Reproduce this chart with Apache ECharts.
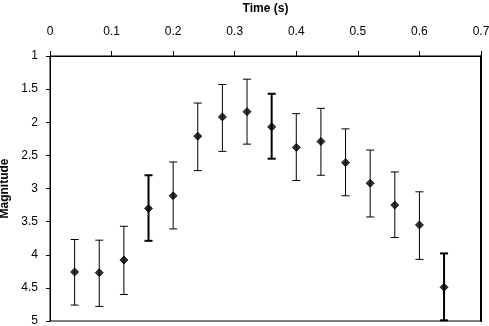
<!DOCTYPE html>
<html>
<head>
<meta charset="utf-8">
<script src="https://cdn.jsdelivr.net/npm/echarts@6/dist/echarts.min.js"></script>
<style>
  html, body { margin: 0; padding: 0; background: #fff; }
  #chart { width: 489px; height: 326px; }
</style>
</head>
<body>
<div id="chart"></div>
<script>
// 数据
const times = [0.04, 0.08, 0.12, 0.16, 0.20, 0.24, 0.28, 0.32, 0.36, 0.40, 0.44, 0.48, 0.52, 0.56, 0.60, 0.64]
const magnitudes = [4.26, 4.27, 4.08, 3.30, 3.11, 2.21, 1.92, 1.84, 2.07, 2.38, 2.29, 2.61, 2.92, 3.25, 3.55, 4.49]
const errTop = [3.77, 3.78, 3.57, 2.80, 2.60, 1.71, 1.43, 1.35, 1.57, 1.87, 1.79, 2.10, 2.42, 2.75, 3.05, 3.98]
const errBottom = [4.76, 4.78, 4.60, 3.79, 3.61, 2.73, 2.44, 2.33, 2.55, 2.88, 2.80, 3.11, 3.43, 3.74, 4.07, 4.99]
const xTicks = [0, 0.1, 0.2, 0.3, 0.4, 0.5, 0.6, 0.7]
const yTicks = [1, 1.5, 2, 2.5, 3, 3.5, 4, 4.5, 5]

// 样式: some bars are drawn heavier in the original
const heavyBars = [3, 8, 15]

const font = 'Liberation Sans, Arial, sans-serif'

const chart = echarts.init(document.getElementById('chart'), null, { renderer: 'canvas' })

const option = {
  animation: false,
  backgroundColor: '#fff',
  grid: {
    left: 50,
    right: 8,
    top: 56,
    bottom: 5,
    outerBoundsMode: 'none',
    containLabel: false,
    show: true,
    borderColor: '#000',
    borderWidth: 1
  },
  xAxis: {
    type: 'value',
    position: 'top',
    min: 0,
    max: 0.7,
    interval: 0.1,
    name: 'Time (s)',
    nameLocation: 'middle',
    nameGap: 41,
    nameTextStyle: { fontFamily: font, fontSize: 12, fontWeight: 'bold', color: '#000' },
    axisLine: { lineStyle: { color: '#000', width: 1 } },
    axisTick: { show: true, inside: false, length: 5, lineStyle: { color: '#000' } },
    axisLabel: {
      margin: 18,
      fontFamily: font,
      fontSize: 12,
      color: '#000',
      formatter: v => String(xTicks.find(t => Math.abs(t - v) < 1e-6) ?? v)
    },
    splitLine: { show: false }
  },
  yAxis: [
    {
      type: 'value',
      inverse: true,
      min: 1,
      max: 5,
      interval: 0.5,
      name: 'Magnitude',
      nameLocation: 'middle',
      nameGap: 37,
      nameRotate: 90,
      nameTextStyle: { fontFamily: font, fontSize: 12, fontWeight: 'bold', color: '#000' },
      axisLine: { show: true, lineStyle: { color: '#000', width: 1 } },
      axisTick: { show: true, inside: false, length: 4, lineStyle: { color: '#000' } },
      axisLabel: {
        margin: 12,
        fontFamily: font,
        fontSize: 12,
        color: '#000',
        formatter: v => String(yTicks.find(t => Math.abs(t - v) < 1e-6) ?? v)
      },
      splitLine: { show: false }
    },
    {
      type: 'value',
      position: 'right',
      inverse: true,
      min: 1,
      max: 5,
      interval: 0.5,
      axisLine: { show: true, lineStyle: { color: '#000', width: 2 } },
      axisTick: { show: false },
      axisLabel: { show: false },
      splitLine: { show: false }
    }
  ],
  series: [
    {
      // 误差线
      type: 'custom',
      data: times.map((t, i) => [t, errTop[i], errBottom[i], i]),
      encode: { x: 0, y: [1, 2] },
      renderItem: function (params, api) {
        const x = api.value(0)
        const p1 = api.coord([x, api.value(1)])
        const p2 = api.coord([x, api.value(2)])
        const w = heavyBars.indexOf(api.value(3)) >= 0 ? 2 : 1
        const cap = 4
        const style = { stroke: '#000', lineWidth: w }
        return {
          type: 'group',
          children: [
            { type: 'line', shape: { x1: p1[0], y1: p1[1], x2: p2[0], y2: p2[1] }, style: style },
            { type: 'line', shape: { x1: p1[0] - cap, y1: p1[1], x2: p1[0] + cap, y2: p1[1] }, style: style },
            { type: 'line', shape: { x1: p2[0] - cap, y1: p2[1], x2: p2[0] + cap, y2: p2[1] }, style: style }
          ]
        }
      },
      z: 2
    },
    {
      type: 'scatter',
      data: times.map((t, i) => [t, magnitudes[i]]),
      symbol: 'diamond',
      symbolSize: 8,
      itemStyle: { color: '#000', borderColor: '#000', borderWidth: 1 },
      z: 3
    }
  ]
}

chart.setOption(option)
</script>
</body>
</html>
